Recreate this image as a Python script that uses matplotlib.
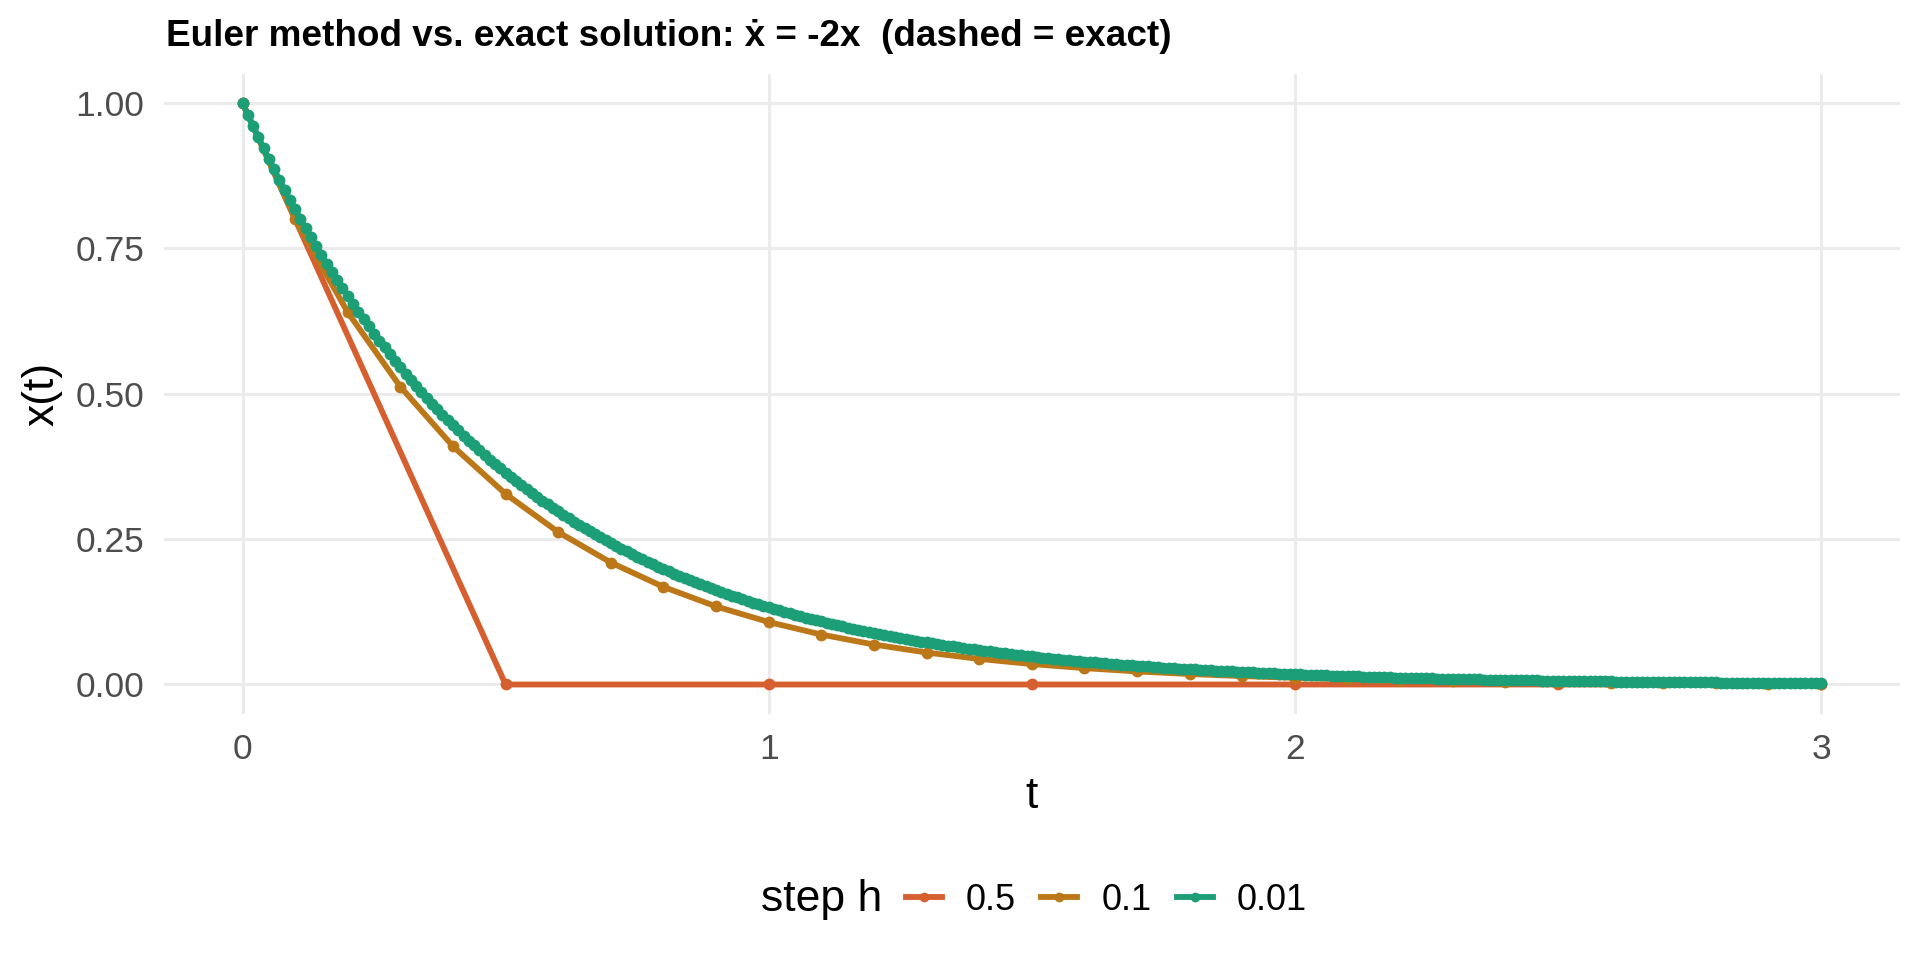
import numpy as np
import matplotlib
matplotlib.use("Agg")
import matplotlib.pyplot as plt
from matplotlib.lines import Line2D

plt.rcParams['font.family'] = ['Liberation Sans', 'DejaVu Sans']

# Euler solutions of x' = -2x, x(0) = 1
step_labels = ["0.5", "0.1", "0.01"]
colors = ["#D65F30", "#BC7718", "#1C9E77"]
t_end = 3.0

x_h05 = [1.0, 0.0, 0.0, 0.0, 0.0, 0.0, 0.0]

x_h01 = [1.0, 0.8, 0.64, 0.512, 0.4096, 0.3277, 0.2621, 0.2097, 0.1678, 0.1342,
         0.1074, 0.0859, 0.0687, 0.0550, 0.0440, 0.0352, 0.0281, 0.0225, 0.0180, 0.0144,
         0.0115, 0.0092, 0.0074, 0.0059, 0.0047, 0.0038, 0.0030, 0.0024, 0.0019, 0.0015,
         0.0012]

x_h001 = [1.0000, .9800, .9604, .9412, .9224, .9039, .8858, .8681, .8508, .8337,
          .8171, .8007, .7847, .7690, .7536, .7386, .7238, .7093, .6951, .6812,
          .6676, .6543, .6412, .6283, .6158, .6035, .5914, .5796, .5680, .5566,
          .5455, .5346, .5239, .5134, .5031, .4931, .4832, .4736, .4641, .4548,
          .4457, .4368, .4281, .4195, .4111, .4029, .3948, .3869, .3792, .3716,
          .3642, .3569, .3497, .3428, .3359, .3292, .3226, .3161, .3098, .3036,
          .2976, .2916, .2858, .2801, .2745, .2690, .2636, .2583, .2531, .2481,
          .2431, .2383, .2335, .2288, .2242, .2198, .2154, .2111, .2068, .2027,
          .1987, .1947, .1908, .1870, .1832, .1796, .1760, .1725, .1690, .1656,
          .1623, .1591, .1559, .1528, .1497, .1467, .1438, .1409, .1381, .1353,
          .1326, .1300, .1274, .1248, .1223, .1199, .1175, .1151, .1128, .1106,
          .1084, .1062, .1041, .1020, .0999, .0980, .0960, .0941, .0922, .0903,
          .0885, .0868, .0850, .0833, .0817, .0800, .0784, .0769, .0753, .0738,
          .0723, .0709, .0695, .0681, .0667, .0654, .0641, .0628, .0615, .0603,
          .0591, .0579, .0568, .0556, .0545, .0534, .0524, .0513, .0503, .0493,
          .0483, .0473, .0464, .0455, .0445, .0437, .0428, .0419, .0411, .0403,
          .0395, .0387, .0379, .0371, .0364, .0357, .0350, .0343, .0336, .0329,
          .0322, .0316, .0310, .0303, .0297, .0291, .0286, .0280, .0274, .0269,
          .0263, .0258, .0253, .0248, .0243, .0238, .0233, .0229, .0224, .0220,
          .0215, .0211, .0207, .0203, .0199, .0195, .0191, .0187, .0183, .0179,
          .0176, .0172, .0169, .0166, .0162, .0159, .0156, .0153, .0150, .0147,
          .0144, .0141, .0138, .0135, .0133, .0130, .0127, .0125, .0122, .0120,
          .0117, .0115, .0113, .0110, .0108, .0106, .0104, .0102, .0100, .0098,
          .0096, .0094, .0092, .0090, .0088, .0087, .0085, .0083, .0082, .0080,
          .0078, .0077, .0075, .0074, .0072, .0071, .0069, .0068, .0067, .0065,
          .0064, .0063, .0061, .0060, .0059, .0058, .0057, .0056, .0054, .0053,
          .0052, .0051, .0050, .0049, .0048, .0047, .0046, .0045, .0045, .0044,
          .0043, .0042, .0041, .0040, .0039, .0039, .0038, .0037, .0036, .0036,
          .0035, .0034, .0034, .0033, .0032, .0032, .0031, .0030, .0030, .0029,
          .0029, .0028, .0027, .0027, .0026, .0026, .0025, .0025, .0024, .0024,
          .0023]

# exact solution, sampled every 0.1
x_exact = [1.0, 0.8187, 0.6703, 0.5488, 0.4493, 0.3679, 0.3012, 0.2466, 0.2019, 0.1653,
           0.1353, 0.1108, 0.0907, 0.0743, 0.0608, 0.0498, 0.0408, 0.0334, 0.0273, 0.0224,
           0.0183, 0.0150, 0.0123, 0.0101, 0.0082, 0.0067, 0.0055, 0.0045, 0.0037, 0.0030,
           0.0025]

x_ticks = [0, 1, 2, 3]
y_ticks = [0.0, 0.25, 0.5, 0.75, 1.0]
y_ticklabels = ["0.00", "0.25", "0.50", "0.75", "1.00"]

series = [x_h05, x_h01, x_h001]

fig = plt.figure(figsize=(19.2, 9.6), dpi=100)
ax = fig.add_axes([0.0852, 0.2567, 0.9044, 0.6663])

t_exact = np.linspace(0, t_end, len(x_exact))
ax.plot(t_exact, x_exact, color="black", lw=1.2, ls=(0, (4, 3)), zorder=2)

for xs, col in zip(series, colors):
    ts = np.linspace(0, t_end, len(xs))
    ax.plot(ts, xs, color=col, lw=4.2, marker="o", ms=8.5, mew=0, zorder=3)

ax.set_xlim(-0.15, 3.15)
ax.set_ylim(-0.05, 1.05)
ax.set_xticks(x_ticks)
ax.set_xticklabels([str(v) for v in x_ticks])
ax.set_yticks(y_ticks)
ax.set_yticklabels(y_ticklabels)
ax.tick_params(length=0, pad=14, labelsize=25.5, labelcolor="#4D4D4D")
ax.grid(True, color="#EBEBEB", lw=2.2)
ax.set_axisbelow(True)
for sp in ax.spines.values():
    sp.set_visible(False)

ax.set_xlabel("t", fontsize=32)
ax.xaxis.set_label_coords(0.5, -0.129)
ax.xaxis.label.set_verticalalignment("center")
ax.set_ylabel("x(t)", fontsize=32)
ax.yaxis.set_label_coords(-0.070, 0.5)
ax.yaxis.label.set_verticalalignment("center")

fig.text(166 / 1920, 1 - 37 / 960,
         "Euler method vs. exact solution: \u1e8b = -2x  (dashed = exact)",
         fontsize=26.6, fontweight="bold", ha="left", va="center")

handles = [Line2D([], [], color=c, lw=4.2, marker="o", ms=7, mew=0) for c in colors]
fig.text(882 / 1920, 1 - 900 / 960, "step h", fontsize=32, ha="right", va="center")
fig.legend(handles, step_labels, loc="center left",
           bbox_to_anchor=(906 / 1920, 1 - 900 / 960), ncol=3, frameon=False,
           fontsize=26, handlelength=1.0, handletextpad=0.66, columnspacing=0.7,
           borderpad=0, borderaxespad=0)

fig.savefig("out.png", dpi=100)
